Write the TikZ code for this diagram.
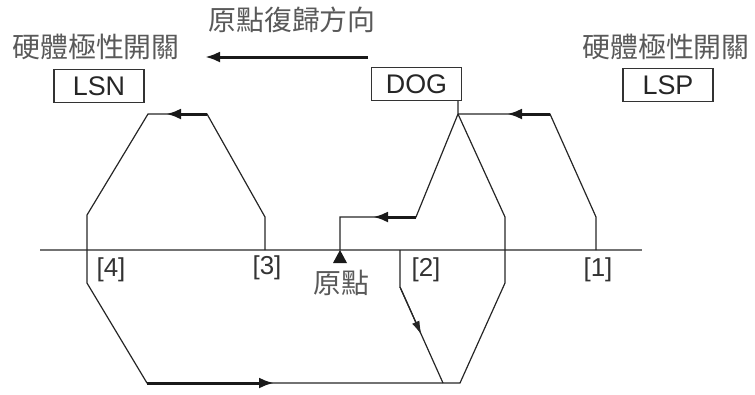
\documentclass[tikz,border=0pt]{standalone}
\usepackage{fontspec}
\setmainfont{Liberation Sans}
\newfontfamily\cjk{Noto Sans CJK TC}
\usetikzlibrary{arrows.meta,calc}
\begin{document}
\begin{tikzpicture}[x=1bp,y=-1bp,
  ln/.style={line width=1.2bp, draw=black!85, line join=miter},
  thk/.style={line width=3bp, draw=black!90, -{Latex[length=15bp,width=11bp]}},
  thin arrow/.style={line width=1.2bp, draw=black!85, -{Latex[length=14bp,width=8bp]}},
  baseln/.style={line width=2bp, draw=black!55},
  swbox/.style={draw=black!80, line width=1.2bp, minimum width=90bp, minimum height=33bp, inner sep=0pt, font=\fontsize{27}{27}\selectfont, text=black!85},
  cjklbl/.style={font=\cjk\fontsize{28}{28}\selectfont, text=black!65, inner sep=0pt},
  numlbl/.style={font=\fontsize{26}{26}\selectfont, text=black!80, inner sep=0pt}]
\useasboundingbox (0,0) rectangle (755,394);

% titles
\node[cjklbl] (title) at (292,20) {原點復歸方向};
\node[cjklbl] (leftsw) at (96,47) {硬體極性開關};
\node[cjklbl] (rightsw) at (666,47) {硬體極性開關};
\node[swbox] (lsn) at (99,86) {LSN};
\node[swbox] (dog) at (416.5,84) {DOG};
\node[swbox] (lsp) at (668,85) {LSP};

% direction arrow
\coordinate (dirS) at (368,57);
\coordinate (dirE) at (205,57);
\draw[thk] (dirS) -- (dirE);

% baseline
\coordinate (bL) at (40,250);
\coordinate (bR) at (642,250);
\draw[baseln] (bL) -- (bR);

% key points
\coordinate (p1a) at (596,250);
\coordinate (p1b) at (596,217);
\coordinate (p1c) at (550,114);
\coordinate (dg) at (458,114);
\coordinate (dgt) at (458,101);
\coordinate (o1) at (416,217);
\coordinate (o2) at (340,217);
\coordinate (org) at (340,250);
\coordinate (r1) at (505,217);
\coordinate (r2) at (505,283);
\coordinate (v1) at (460,383);
\coordinate (v0) at (443,383);
\coordinate (bl) at (147,383);
\coordinate (l1) at (87,283);
\coordinate (l2) at (87,215);
\coordinate (t1) at (148,114);
\coordinate (t2) at (207,114);
\coordinate (t3) at (265,217);
\coordinate (t4) at (265,250);
\coordinate (s2a) at (400,250);
\coordinate (s2b) at (400,287);

\draw[ln] (p1a) -- (p1b) -- (p1c) -- (dg) -- (dgt);
\draw[ln] (dg) -- (o1) -- (o2) -- (org);
\draw[ln] (dg) -- (r1) -- (r2) -- (v1) -- (bl) -- (l1) -- (l2) -- (t1) -- (t2) -- (t3) -- (t4);
\draw[ln] (s2a) -- (s2b) -- (v0);

% arrows
\draw[thk] (p1c) -- (507,114);
\draw[thk] (o1) -- (373,217);
\draw[thk] (t2) -- (166,114);
\draw[thk] (bl) -- (274,383);
\draw[thin arrow] (s2b) -- ($(s2b)!0.5!(v0)$);

% origin marker
\fill[black!90] (org) -- (333,263) -- (347,263) -- cycle;
\node[cjklbl] (orglbl) at (341,283) {原點};

% step labels
\node[numlbl] (n4) at (111,270) {[4]};
\node[numlbl] (n3) at (267,268) {[3]};
\node[numlbl] (n2) at (426,270) {[2]};
\node[numlbl] (n1) at (598,270) {[1]};
\end{tikzpicture}
\end{document}
